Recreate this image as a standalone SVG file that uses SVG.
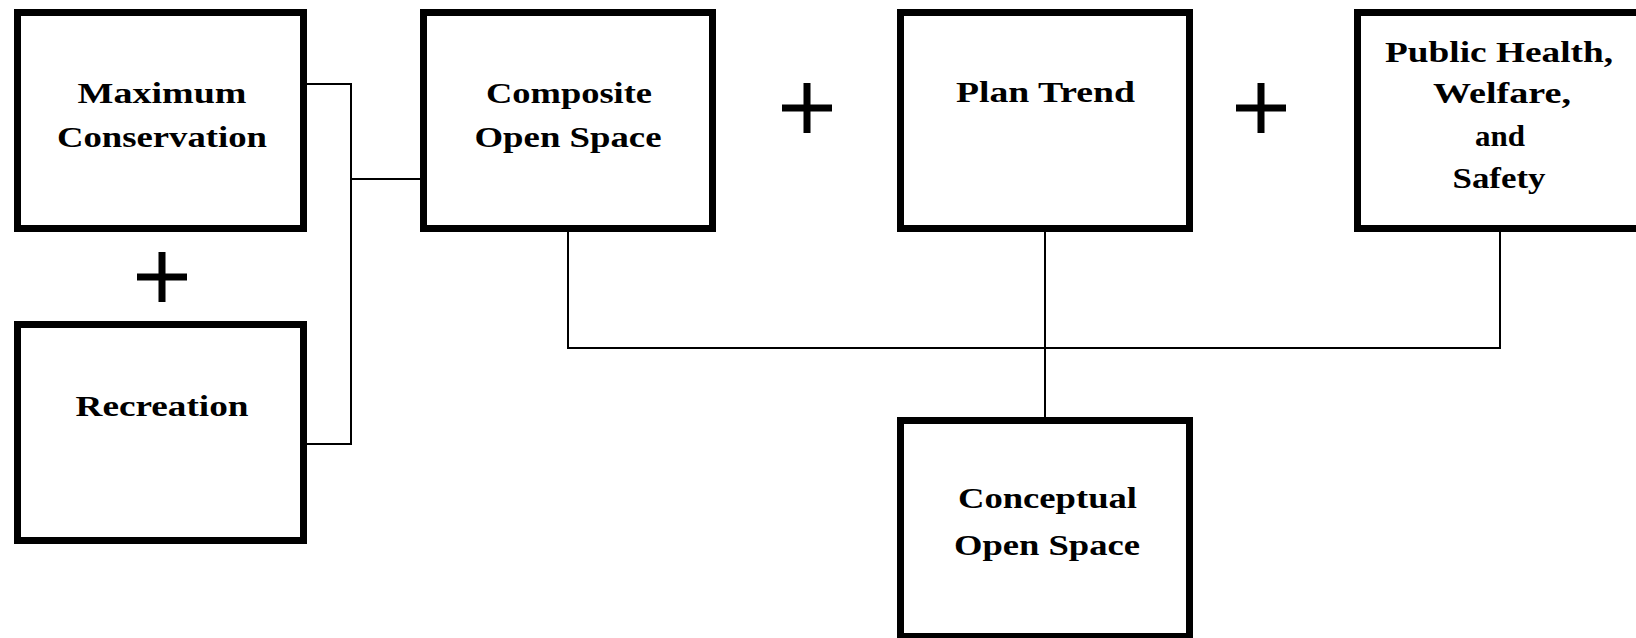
<svg xmlns="http://www.w3.org/2000/svg" width="1636" height="638" viewBox="0 0 1636 638">
<style>
.box{fill:#fff;stroke:#000;stroke-width:7}
.lbl{font-family:"Liberation Serif","Times New Roman",serif;font-weight:bold;font-size:30px;fill:#000;text-anchor:middle}
.conn{fill:none;stroke:#000;stroke-width:2}
.plus{fill:#000}
</style>
<defs>
<path id="plusShape" d="M-25,-3.5H-3.5V-25H3.5V-3.5H25V3.5H3.5V25H-3.5V3.5H-25Z"/>
</defs>
<rect width="1636" height="638" fill="#fff"/>
<g id="connectors">
<path class="conn" d="M307,84H351V444H307"/>
<path class="conn" d="M351,179H420"/>
<path class="conn" d="M568,232V348H1500V232"/>
<path class="conn" d="M1045,232V417"/>
</g>
<g id="node-maximum-conservation">
<rect class="box" x="17.5" y="12.5" width="286" height="216"/>
<text class="lbl" x="162" y="103" textLength="169" lengthAdjust="spacingAndGlyphs">Maximum</text>
<text class="lbl" x="162" y="147" textLength="210" lengthAdjust="spacingAndGlyphs">Conservation</text>
</g>
<g id="node-recreation">
<rect class="box" x="17.5" y="324.5" width="286" height="216"/>
<text class="lbl" x="162" y="416" textLength="173" lengthAdjust="spacingAndGlyphs">Recreation</text>
</g>
<g id="node-composite">
<rect class="box" x="423.5" y="12.5" width="289" height="216"/>
<text class="lbl" x="569" y="103" textLength="166" lengthAdjust="spacingAndGlyphs">Composite</text>
<text class="lbl" x="568" y="147" textLength="187" lengthAdjust="spacingAndGlyphs">Open Space</text>
</g>
<g id="node-plan-trend">
<rect class="box" x="900.5" y="12.5" width="289" height="216"/>
<text class="lbl" x="1045.5" y="102" textLength="179" lengthAdjust="spacingAndGlyphs">Plan Trend</text>
</g>
<g id="node-public-health">
<rect class="box" x="1357.5" y="12.5" width="289" height="216"/>
<text class="lbl" x="1499" y="62" textLength="228" lengthAdjust="spacingAndGlyphs">Public Health,</text>
<text class="lbl" x="1502" y="103" textLength="138" lengthAdjust="spacingAndGlyphs">Welfare,</text>
<text class="lbl" x="1500" y="146" textLength="50" lengthAdjust="spacingAndGlyphs">and</text>
<text class="lbl" x="1499" y="188" textLength="93" lengthAdjust="spacingAndGlyphs">Safety</text>
</g>
<g id="node-conceptual">
<rect class="box" x="900.5" y="420.5" width="289" height="216"/>
<text class="lbl" x="1047.5" y="508" textLength="179" lengthAdjust="spacingAndGlyphs">Conceptual</text>
<text class="lbl" x="1047" y="555" textLength="186" lengthAdjust="spacingAndGlyphs">Open Space</text>
</g>
<g id="operators">
<use href="#plusShape" class="plus" x="162" y="277"/>
<use href="#plusShape" class="plus" x="807" y="108"/>
<use href="#plusShape" class="plus" x="1261" y="108"/>
</g>
</svg>
